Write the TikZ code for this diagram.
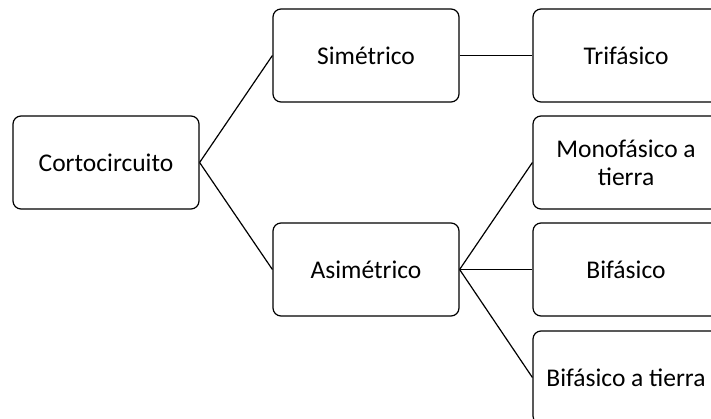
\documentclass[tikz,border=0pt]{standalone}
\usepackage{fontspec}
\setmainfont{Carlito}
\tikzset{
  caja/.style={draw, line width=1.2pt, rounded corners=8pt, minimum width=186pt,
    minimum height=93pt, align=center, inner sep=2pt,
    font=\fontsize{25.5}{28}\selectfont},
  rama/.style={line width=1.2pt}
}
\begin{document}
\begin{tikzpicture}[x=1pt,y=-1pt]
            \useasboundingbox (0,0) rectangle (711,419);
            \clip (0,0) rectangle (711,419);

            \node[caja] (corto) at (106,162.5) {Cortocircuito};
            \node[caja] (sim) at (366,55.5) {Simétrico};
            \node[caja] (asim) at (366,269.5) {Asimétrico};

            \node[caja] (tri) at (626,55.5) {Trifásico};
            \node[caja] (mono) at (626,162.5) {Monofásico a\\tierra};
            \node[caja] (bi) at (626,269.5) {Bifásico};
            \node[caja] (bit) at (626,377.5) {Bifásico a tierra};

            \draw[rama] (corto.east) -- (sim.west);
            \draw[rama] (corto.east) -- (asim.west);
            \draw[rama] (sim.east) -- (tri.west);
            \draw[rama] (asim.east) -- (mono.west);
            \draw[rama] (asim.east) -- (bi.west);
            \draw[rama] (asim.east) -- (bit.west);
        \end{tikzpicture}
\end{document}
